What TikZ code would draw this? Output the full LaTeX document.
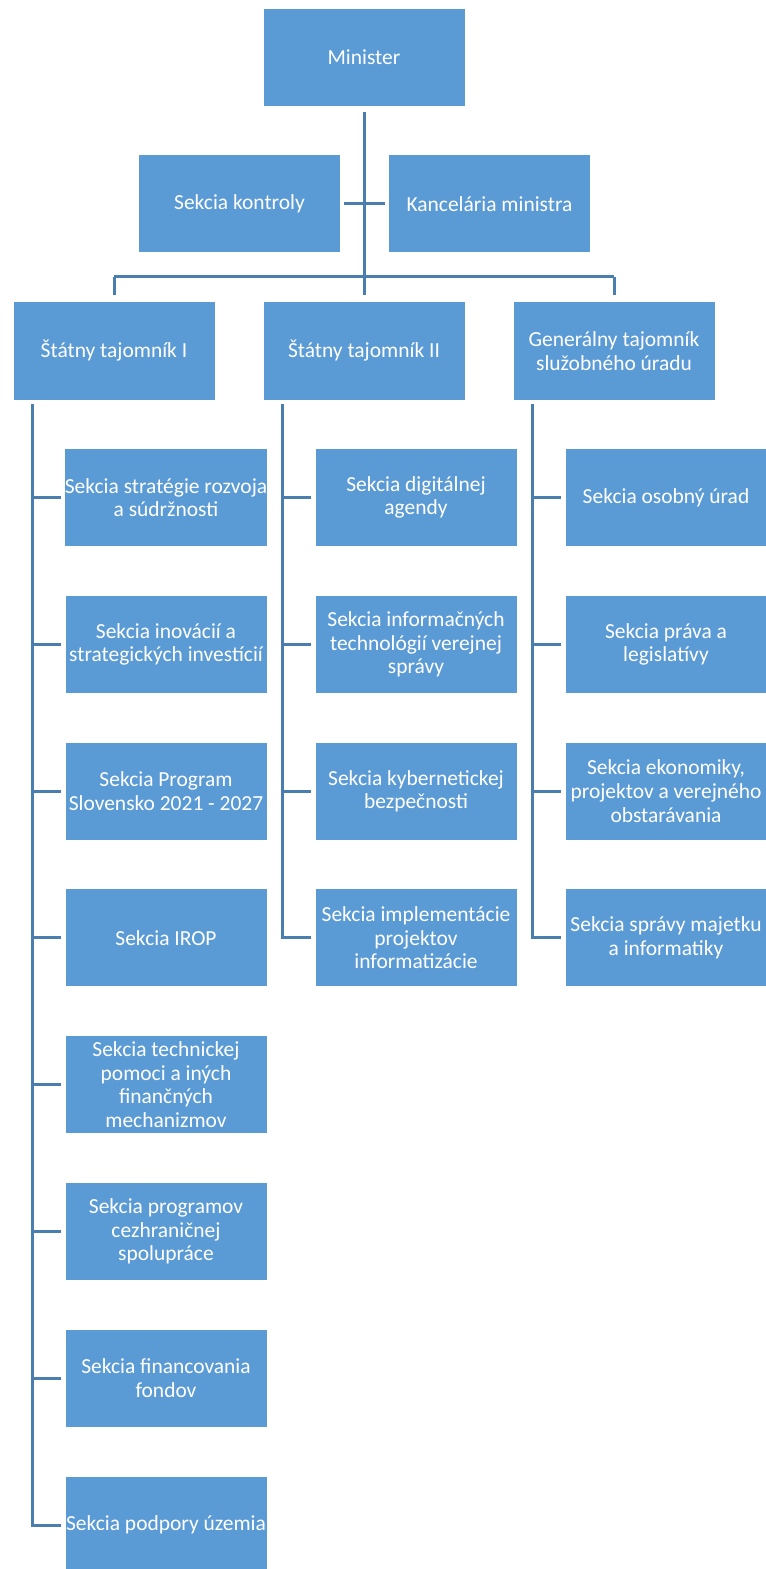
\documentclass[tikz,border=0pt]{standalone}
\usepackage{fontspec}
\setmainfont{Carlito}
\definecolor{boxblue}{HTML}{5B9BD5}
\definecolor{linecol}{HTML}{4A7EB0}
\tikzset{
  box/.style={rectangle, fill=boxblue, draw=white, line width=0.75pt,
    minimum width=151.5pt, minimum height=73.5pt, inner sep=0pt,
    align=center, text=white, font=\fontsize{16.1}{17.7}\selectfont},
  conn/.style={draw=linecol, line width=2.25pt},
}
\begin{document}
\begin{tikzpicture}[x=0.75pt, y=-0.75pt]
\useasboundingbox[fill=white] (0,0) rectangle (765,1569);
% top levels
\node[box] (min) at (364,57.5) {Minister};
\node[box] (kon) at (239.5,204) {Sekcia kontroly};
\node[box] (kan) at (489.5,204) {Kancelária ministra};
\node[box] (st1) at (114,351) {Štátny tajomník I};
\node[box] (st2) at (364,351) {Štátny tajomník II};
\node[box] (st3) at (614,351) {Generálny tajomník\\služobného úradu};
% left column
\node[box] (l1) at (166,497.5) {Sekcia stratégie rozvoja\\a súdržnosti};
\node[box] (l2) at (166,644.3) {Sekcia inovácií a\\strategických investícií};
\node[box] (l3) at (166,791.1) {Sekcia Program\\Slovensko 2021 - 2027};
\node[box] (l4) at (166,937.9) {Sekcia IROP};
\node[box] (l5) at (166,1084.7) {Sekcia technickej\\pomoci a iných\\finančných\\mechanizmov};
\node[box] (l6) at (166,1231.5) {Sekcia programov\\cezhraničnej\\spolupráce};
\node[box] (l7) at (166,1378.3) {Sekcia financovania\\fondov};
\node[box] (l8) at (166,1525.1) {Sekcia podpory územia};
% middle column
\node[box] (m1) at (416,497.5) {Sekcia digitálnej\\agendy};
\node[box] (m2) at (416,644.3) {Sekcia informačných\\technológií verejnej\\správy};
\node[box] (m3) at (416,791.1) {Sekcia kybernetickej\\bezpečnosti};
\node[box] (m4) at (416,937.9) {Sekcia implementácie\\projektov\\informatizácie};
% right column
\node[box] (r1) at (666,497.5) {Sekcia osobný úrad};
\node[box] (r2) at (666,644.3) {Sekcia práva a\\legislatívy};
\node[box] (r3) at (666,791.1) {Sekcia ekonomiky,\\projektov a verejného\\obstarávania};
\node[box] (r4) at (666,937.9) {Sekcia správy majetku\\a informatiky};
% connectors top
\draw[conn, shorten <=3.75pt, shorten >=4.5pt] (min.south) -- (st2.north);
\draw[conn, shorten <=2.5pt, shorten >=2.5pt] (kon.east) -- (kan.west);
\coordinate (bus) at (364,277);
\draw[conn] (bus -| st1.north) -- (bus -| st3.north);
\draw[conn, shorten >=4.5pt] (bus -| st1.north) -- (st1.north);
\draw[conn, shorten >=4.5pt] (bus -| st3.north) -- (st3.north);
% spines
\coordinate (sp1) at (32,404);
\coordinate (sp2) at (282,404);
\coordinate (sp3) at (532,404);
\draw[conn] (sp1) |- ([xshift=-2.5pt]l8.west);
\draw[conn] (sp2) |- ([xshift=-2.5pt]m4.west);
\draw[conn] (sp3) |- ([xshift=-2.5pt]r4.west);
\foreach \n in {l1,l2,l3,l4,l5,l6,l7}
  \draw[conn, shorten >=2.5pt] (sp1 |- \n.west) -- (\n.west);
\foreach \n in {m1,m2,m3}
  \draw[conn, shorten >=2.5pt] (sp2 |- \n.west) -- (\n.west);
\foreach \n in {r1,r2,r3}
  \draw[conn, shorten >=2.5pt] (sp3 |- \n.west) -- (\n.west);
\end{tikzpicture}
\end{document}
